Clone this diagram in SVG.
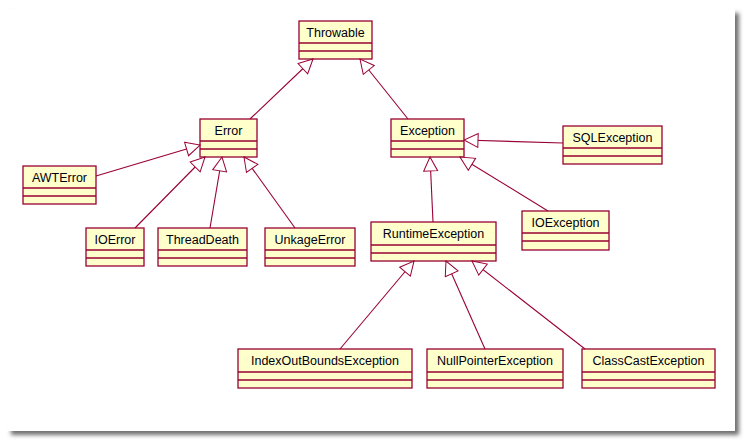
<svg xmlns="http://www.w3.org/2000/svg" width="746" height="442" viewBox="0 0 746 442">
<defs>
<filter id="sh" x="-5%" y="-5%" width="110%" height="110%"><feGaussianBlur stdDeviation="2"/></filter>
<marker id="tri" markerUnits="userSpaceOnUse" markerWidth="16" markerHeight="16" viewBox="0 0 16 16" refX="15" refY="8" orient="auto">
<path d="M1,1 L15,8 L1,15 z" fill="#ffffff" stroke="#990033" stroke-width="1"/>
</marker>
</defs>
<style>
.box{fill:#ffffcc;stroke:#990033;stroke-width:1.3}
.sep{stroke:#990033;stroke-width:1.3}
.lbl{font-family:"Liberation Sans",Arial,sans-serif;font-size:12.5px;fill:#000010;text-anchor:middle}
.conn path{fill:none;stroke:#990033;stroke-width:1.1;marker-end:url(#tri)}
</style>
<rect x="0" y="0" width="746" height="442" fill="#ffffff"/>
<rect x="11" y="13" width="728" height="422" fill="#707070" filter="url(#sh)"/>
<rect x="7" y="9" width="728" height="422" fill="#ffffff"/>

<g id="Throwable"><rect class="box" x="299" y="21" width="73" height="38"/><line class="sep" x1="299" y1="43" x2="372" y2="43"/><line class="sep" x1="299" y1="51" x2="372" y2="51"/><text class="lbl" x="335.5" y="37">Throwable</text></g>
<g id="Error"><rect class="box" x="200" y="119" width="57" height="38"/><line class="sep" x1="200" y1="141" x2="257" y2="141"/><line class="sep" x1="200" y1="149" x2="257" y2="149"/><text class="lbl" x="228.5" y="135">Error</text></g>
<g id="Exception"><rect class="box" x="391" y="119" width="73" height="38"/><line class="sep" x1="391" y1="141" x2="464" y2="141"/><line class="sep" x1="391" y1="149" x2="464" y2="149"/><text class="lbl" x="427.5" y="135">Exception</text></g>
<g id="SQLException"><rect class="box" x="563" y="126" width="99" height="38"/><line class="sep" x1="563" y1="148" x2="662" y2="148"/><line class="sep" x1="563" y1="156" x2="662" y2="156"/><text class="lbl" x="612.5" y="142">SQLException</text></g>
<g id="AWTError"><rect class="box" x="23" y="166" width="73" height="38"/><line class="sep" x1="23" y1="188" x2="96" y2="188"/><line class="sep" x1="23" y1="196" x2="96" y2="196"/><text class="lbl" x="59.5" y="182">AWTError</text></g>
<g id="IOError"><rect class="box" x="86" y="228" width="58" height="38"/><line class="sep" x1="86" y1="250" x2="144" y2="250"/><line class="sep" x1="86" y1="258" x2="144" y2="258"/><text class="lbl" x="115" y="244">IOError</text></g>
<g id="ThreadDeath"><rect class="box" x="158" y="228" width="89" height="38"/><line class="sep" x1="158" y1="250" x2="247" y2="250"/><line class="sep" x1="158" y1="258" x2="247" y2="258"/><text class="lbl" x="202.5" y="244">ThreadDeath</text></g>
<g id="UnkageError"><rect class="box" x="265" y="228" width="90" height="38"/><line class="sep" x1="265" y1="250" x2="355" y2="250"/><line class="sep" x1="265" y1="258" x2="355" y2="258"/><text class="lbl" x="310" y="244">UnkageError</text></g>
<g id="RuntimeException"><rect class="box" x="371" y="222" width="125" height="39"/><line class="sep" x1="371" y1="245" x2="496" y2="245"/><line class="sep" x1="371" y1="253" x2="496" y2="253"/><text class="lbl" x="433.5" y="238">RuntimeException</text></g>
<g id="IOException"><rect class="box" x="522" y="211" width="87" height="39"/><line class="sep" x1="522" y1="233" x2="609" y2="233"/><line class="sep" x1="522" y1="241" x2="609" y2="241"/><text class="lbl" x="565.5" y="227">IOException</text></g>
<g id="IndexOutBoundsException"><rect class="box" x="238" y="349" width="174" height="39"/><line class="sep" x1="238" y1="372" x2="412" y2="372"/><line class="sep" x1="238" y1="380" x2="412" y2="380"/><text class="lbl" x="325" y="365">IndexOutBoundsException</text></g>
<g id="NullPointerException"><rect class="box" x="427" y="349" width="136" height="39"/><line class="sep" x1="427" y1="372" x2="563" y2="372"/><line class="sep" x1="427" y1="380" x2="563" y2="380"/><text class="lbl" x="495" y="365">NullPointerException</text></g>
<g id="ClassCastException"><rect class="box" x="582" y="349" width="133" height="39"/><line class="sep" x1="582" y1="372" x2="715" y2="372"/><line class="sep" x1="582" y1="380" x2="715" y2="380"/><text class="lbl" x="648.5" y="365">ClassCastException</text></g>

<g id="connectors" class="conn">
<path d="M250,119 L313,59"/>
<path d="M408,119 L360,59"/>
<path d="M96,176 L200,145"/>
<path d="M135,228 L205,157"/>
<path d="M210,228 L222,157"/>
<path d="M295,228 L244,157"/>
<path d="M563,143 L464,140"/>
<path d="M433,222 L430,157"/>
<path d="M548,211 L460,157"/>
<path d="M340,349 L414,261"/>
<path d="M485,349 L446,261"/>
<path d="M585,349 L472,261"/>
</g>
</svg>
